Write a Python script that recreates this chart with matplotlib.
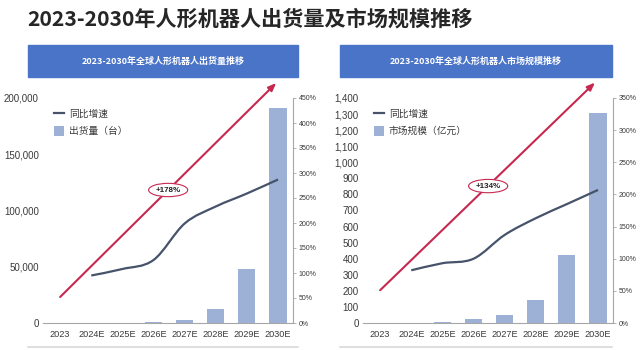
import matplotlib
matplotlib.use("Agg")
import matplotlib.pyplot as plt
from matplotlib.patches import Rectangle, Patch, PathPatch
from matplotlib.lines import Line2D
from matplotlib.path import Path

plt.rcParams['font.family'] = ['Liberation Sans', 'Noto Sans CJK SC', 'DejaVu Sans']
CJK = ['Noto Sans CJK SC', 'DejaVu Sans']

# ---------------- data ----------------
years = ['2023', '2024E', '2025E', '2026E', '2027E', '2028E', '2029E', '2030E']

shipments = [100, 200, 400, 1000, 3000, 12700, 48300, 190800]          # 台
ship_growth = [None, 95, 108, 126, 199, 233, 259, 287]                  # %
ship_cagr_label = '+178%'

market = [1, 3, 8, 23, 50, 143, 423, 1305]                               # 亿元
market_growth = [None, 82, 93, 100, 137, 163, 185, 207]                  # %
market_cagr_label = '+134%'

main_title = '2023-2030年人形机器人出货量及市场规模推移'
left_title = '2023-2030年全球人形机器人出货量推移'
right_title = '2023-2030年全球人形机器人市场规模推移'
left_bar_label = '出货量（台）'
right_bar_label = '市场规模（亿元）'
line_label = '同比增速'

left_yticks = [0, 50000, 100000, 150000, 200000]
left_pticks = list(range(0, 451, 50))
right_yticks = list(range(0, 1401, 100))
right_pticks = list(range(0, 351, 50))

# arrow / label anchor positions (category index, % on right axis)
left_arrow = ((0, 52), (6.94, 480))
left_label_pos = (3.47, 266)
right_arrow = ((0, 51), (6.9, 374))
right_label_pos = (3.47, 213)

BAR = '#9DB1D6'
LINE = '#46536A'
RED = '#C7284F'
BOX = '#4A74C8'
TXT = '#3A3A3A'

fig = plt.figure(figsize=(6.4, 3.5), dpi=100)
W, H = 640, 350


def fx(px):
    return px / W


def fy(py):
    return 1 - py / H


fig.text(fx(27), fy(19), main_title, family=CJK, fontsize=15.2, fontweight='bold',
         color='#262626', va='center', ha='left')


def smooth_path(xs, ys):
    """Smoothed (Catmull-Rom style) bezier path through the given points."""
    pts = list(zip(xs, ys))
    verts = [pts[0]]
    codes = [Path.MOVETO]
    n = len(pts)
    for i in range(n - 1):
        p0 = pts[i - 1] if i > 0 else pts[i]
        p1 = pts[i]
        p2 = pts[i + 1]
        p3 = pts[i + 2] if i + 2 < n else pts[i + 1]
        c1 = (p1[0] + (p2[0] - p0[0]) / 6, p1[1] + (p2[1] - p0[1]) / 6)
        c2 = (p2[0] - (p3[0] - p1[0]) / 6, p2[1] - (p3[1] - p1[1]) / 6)
        verts += [c1, c2, p2]
        codes += [Path.CURVE4] * 3
    return Path(verts, codes)


def panel(x0, bars, growth, ymax, yticks, pmax, pticks, bar_label, header,
          arrow, lab_pos, lab_text, box_x0, box_x1):
    # header box
    fig.patches.append(Rectangle((fx(box_x0), fy(77)), fx(box_x1 - box_x0), (77 - 45) / H,
                                 transform=fig.transFigure, color=BOX, zorder=0))
    fig.text(fx((box_x0 + box_x1) / 2), fy(61), header, family=CJK, fontsize=6.5,
             fontweight='bold', color='white', ha='center', va='center')
    # separator line at bottom
    fig.add_artist(Line2D([fx(box_x0), fx(box_x1)], [fy(347), fy(347)],
                          transform=fig.transFigure, color='#D9D9D9', lw=1.2))

    ax = fig.add_axes([fx(x0), fy(323), fx(250), 225 / H])
    xs = list(range(len(years)))
    ax.bar(xs, bars, width=0.55, color=BAR, zorder=2)
    ax.set_xlim(-0.55, 7.48)
    ax.set_ylim(0, ymax)
    ax.set_yticks(yticks)
    ax.set_yticklabels([f'{v:,}' for v in yticks], fontsize=7, color=TXT)
    ax.set_xticks(xs)
    ax.set_xticklabels(years, fontsize=6.6, color=TXT)
    ax.tick_params(axis='y', length=0, pad=3)
    ax.tick_params(axis='x', length=0, pad=5)
    for s in ['left', 'top', 'right']:
        ax.spines[s].set_visible(False)
    ax.spines['bottom'].set_color('#A6A6A6')
    ax.spines['bottom'].set_linewidth(0.8)

    ax2 = ax.twinx()
    ax2.set_ylim(0, pmax)
    ax2.set_yticks(pticks)
    ax2.set_yticklabels([f'{p}%' for p in pticks], fontsize=5, color=TXT)
    ax2.tick_params(axis='y', length=2.5, width=0.6, color='#A6A6A6', pad=1.5)
    for s in ['left', 'top', 'bottom']:
        ax2.spines[s].set_visible(False)
    ax2.spines['right'].set_color('#A6A6A6')
    ax2.spines['right'].set_linewidth(0.8)

    gx = [i for i, g in enumerate(growth) if g is not None]
    gy = [g for g in growth if g is not None]
    ax2.add_patch(PathPatch(smooth_path(gx, gy), fill=False, edgecolor=LINE,
                            lw=1.6, capstyle='butt', joinstyle='round', zorder=3))

    ax2.annotate('', xy=arrow[1], xytext=arrow[0], annotation_clip=False,
                 arrowprops=dict(arrowstyle='-|>,head_length=0.45,head_width=0.18',
                                 color=RED, lw=1.5, shrinkA=0, shrinkB=0), zorder=4)
    ax2.text(lab_pos[0], lab_pos[1], lab_text, fontsize=5.8, fontweight='bold',
             color='#222222', ha='center', va='center', zorder=5,
             bbox=dict(boxstyle='ellipse,pad=0.15', fc='white', ec=RED, lw=0.8))

    handles = [Line2D([0], [0], color=LINE, lw=1.6),
               Patch(facecolor=BAR, edgecolor='none')]
    leg = ax2.legend(handles, [line_label, bar_label], loc='upper left',
                     bbox_to_anchor=(0.01, 0.99), frameon=False,
                     prop={'family': CJK, 'size': 7}, handlelength=1.0,
                     handleheight=1.1, handletextpad=0.5, labelspacing=0.75)
    for t in leg.get_texts():
        t.set_color(TXT)
    return ax, ax2


panel(43, shipments, ship_growth, 200000, left_yticks, 450, left_pticks,
      left_bar_label, left_title, left_arrow, left_label_pos, ship_cagr_label, 28, 298)
panel(363, market, market_growth, 1400, right_yticks, 350, right_pticks,
      right_bar_label, right_title, right_arrow, right_label_pos, market_cagr_label, 340, 612)

fig.savefig('out.png', dpi=100)
